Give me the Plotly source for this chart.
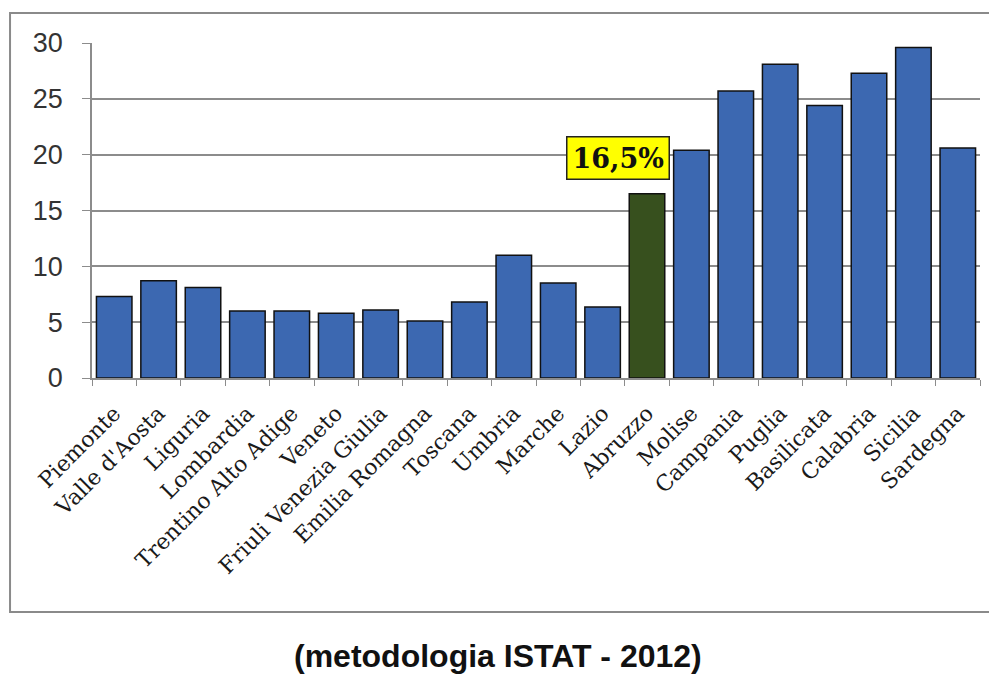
import plotly.graph_objects as go

regions = ["Piemonte", "Valle d'Aosta", "Liguria", "Lombardia", "Trentino Alto Adige",
           "Veneto", "Friuli Venezia Giulia", "Emilia Romagna", "Toscana", "Umbria",
           "Marche", "Lazio", "Abruzzo", "Molise", "Campania", "Puglia", "Basilicata",
           "Calabria", "Sicilia", "Sardegna"]
values = [7.3, 8.7, 8.1, 6.0, 6.0, 5.8, 6.1, 5.1, 6.8, 11.0,
          8.5, 6.35, 16.5, 20.4, 25.7, 28.1, 24.4, 27.3, 29.6, 20.6]
highlight = "Abruzzo"
highlight_label = "16,5%"
y_ticks = [0, 5, 10, 15, 20, 25, 30]
caption = "(metodologia ISTAT - 2012)"

blue = "#3C68B1"
green = "#37501E"
colors = [green if r == highlight else blue for r in regions]

fig = go.Figure()
fig.add_trace(go.Bar(
    x=regions, y=values,
    marker=dict(color=colors, line=dict(color="#111111", width=1.5)),
    hoverinfo="x+y",
))

fig.update_layout(
    width=997, height=677,
    margin=dict(l=84, r=25, t=35, b=307, autoexpand=False),
    paper_bgcolor="white", plot_bgcolor="white",
    bargap=0.2,
    showlegend=False,
    font=dict(family="DejaVu Serif", color="#222222"),
)
fig.update_yaxes(
    range=[0, 30], tickvals=y_ticks, ticktext=[str(v) for v in y_ticks],
    showgrid=True, gridcolor="#8c8c8c", gridwidth=1.5,
    showline=True, linecolor="#8c8c8c", linewidth=1.5,
    ticks="outside", ticklen=8, tickcolor="#8c8c8c",
    tickfont=dict(family="Liberation Sans", size=27, color="#333333"),
    ticklabelstandoff=14,
    zeroline=False, automargin=False,
)
fig.update_xaxes(
    tickangle=-45, tickson="boundaries",
    ticks="outside", ticklen=6, tickcolor="#8c8c8c",
    showline=True, linecolor="#8c8c8c", linewidth=1.5,
    tickfont=dict(family="DejaVu Serif", size=22, color="#1a1a1a"),
    ticklabelstandoff=12,
    automargin=False,
)

fig.add_annotation(
    x=highlight, y=19.7, xref="x", yref="y", xshift=-29,
    text="<b>" + highlight_label + "</b>", showarrow=False,
    font=dict(family="DejaVu Serif", size=27, color="#111111"),
    bgcolor="#FFFF00", bordercolor="#222222", borderwidth=1.5, borderpad=5,
)

fig.add_annotation(
    x=0.457, y=-0.89, xref="paper", yref="paper",
    text="<b>" + caption + "</b>", showarrow=False,
    font=dict(family="Liberation Sans", size=32, color="#111111"),
)

fig.add_shape(type="rect", xref="paper", yref="paper",
              x0=-0.0923, x1=1.03, y0=-0.6985, y1=1.0896,
              line=dict(color="#8a8a8a", width=2), layer="below")

fig.write_html("out.html")
